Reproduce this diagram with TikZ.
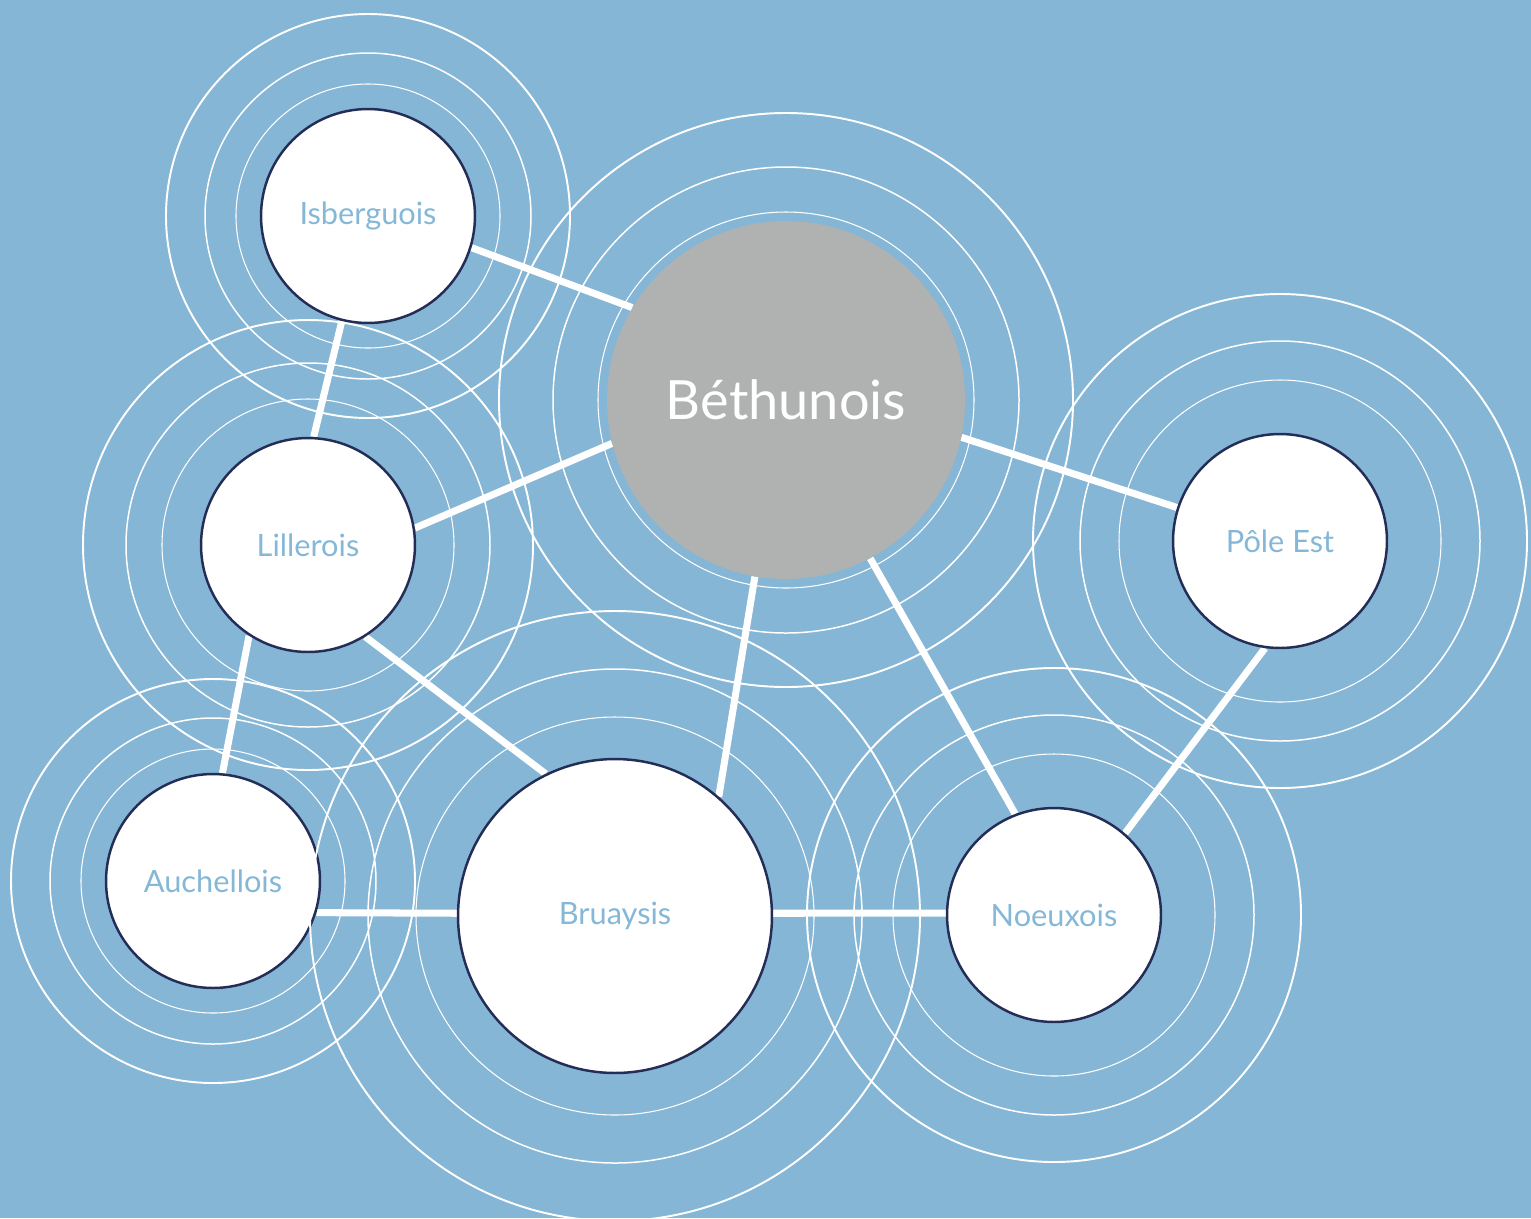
\documentclass[tikz,border=0pt]{standalone}
\usepackage{fontspec}
\setmainfont{Lato}
\usetikzlibrary{backgrounds}
\definecolor{fondbleu}{RGB}{133,182,214}
\definecolor{grisbeth}{RGB}{176,178,177}
\definecolor{marine}{RGB}{35,45,85}
\definecolor{textebleu}{RGB}{133,184,215}
\tikzset{
  pole/.style={circle, draw=marine, line width=1.4pt, fill=white, inner sep=0pt,
    minimum size=4.28cm, text=textebleu, font=\fontsize{17.5}{19}\selectfont},
  lien/.style={white, line width=4pt},
  onde/.style={white},
}
\begin{document}
\begin{tikzpicture}[x=0.02cm, y=-0.02cm]
\useasboundingbox (0,0) rectangle (1531,1218);
\clip (0,0) rectangle (1531,1218);
% les poles
\node[circle, fill=grisbeth, inner sep=0pt, minimum size=7.16cm, text=white,
  font=\fontsize{30.8}{34}\selectfont] (bet) at (786,400) {Béthunois};
\node[pole] (isb) at (368,216) {Isberguois};
\node[pole] (lil) at (308,545) {Lillerois};
\node[pole] (pol) at (1280,541) {Pôle Est};
\node[pole] (auc) at (213,881) {Auchellois};
\node[pole, minimum size=6.28cm] (bru) at (615,916) {Bruaysis};
\node[pole] (noe) at (1054,915) {Noeuxois};
\begin{scope}[on background layer]
  \fill[fondbleu] (0,0) rectangle (1531,1218);
  % liens
  \draw[lien] (isb.-17) -- (bet.149);
  \draw[lien] (isb.256) -- (lil.87);
  \draw[lien] (lil.9) -- (bet.194);
  \draw[lien] (lil.237) -- (auc.85);
  \draw[lien] (lil.302) -- (bru.116);
  \draw[lien] (bet.260) -- (bru.49);
  \draw[lien] (bet.298) -- (noe.111);
  \draw[lien] (bet.348) -- (pol.162);
  \draw[lien] (pol.262) -- (noe.49);
  \draw[lien] (auc.-17) -- (bru.179);
  \draw[lien] (bru.1) -- (noe.179);
\end{scope}
% ondes
\draw[onde, line width=0.6pt] (isb) circle (132) (bet) circle (188) (lil) circle (146)
  (pol) circle (161) (auc) circle (132) (bru) circle (199) (noe) circle (161);
\draw[onde, line width=0.85pt] (isb) circle (163) (bet) circle (233) (lil) circle (182)
  (pol) circle (200) (auc) circle (163) (bru) circle (247) (noe) circle (200);
\draw[onde, line width=1.1pt] (isb) circle (202) (bet) circle (287) (lil) circle (225)
  (pol) circle (247) (auc) circle (202) (bru) circle (305) (noe) circle (247);
\end{tikzpicture}
\end{document}
